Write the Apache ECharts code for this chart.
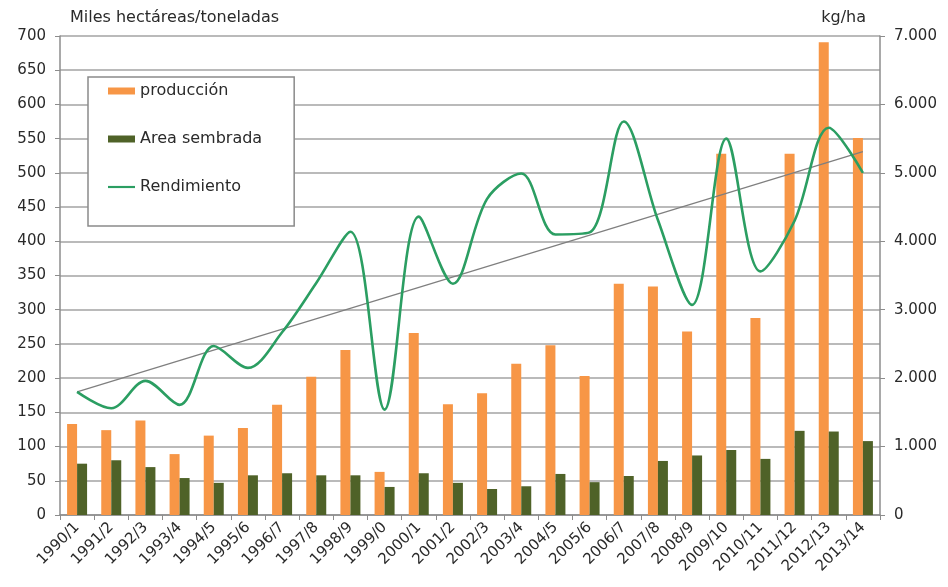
<!DOCTYPE html>
<html>
<head>
<meta charset="utf-8">
<script src="https://cdn.jsdelivr.net/npm/echarts@6/dist/echarts.min.js"></script>
<style>
html,body{margin:0;padding:0;background:#fff;}
#chart{width:948px;height:587px;}
</style>
</head>
<body>
<div id="chart"></div>
<script>
var categories = ['1990/1','1991/2','1992/3','1993/4','1994/5','1995/6','1996/7','1997/8','1998/9','1999/0','2000/1','2001/2','2002/3','2003/4','2004/5','2005/6','2006/7','2007/8','2008/9','2009/10','2010/11','2011/12','2012/13','2013/14'];
var produccion = [133,124,138,89,116,127,161,202,241,63,266,162,178,221,248,203,338,334,268,528,288,528,691,551];
var areaSembrada = [75,80,70,54,47,58,61,58,58,41,61,47,38,42,60,48,57,79,87,95,82,123,122,108];
var rendimiento = [1800,1560,1960,1610,2470,2150,2670,3390,4140,1540,4360,3380,4620,4990,4100,4130,5750,4310,3070,5500,3560,4300,5660,5000];
var tendenciaInicio = 1800;
var tendenciaFin = 5310;
var leftTicks = [0,50,100,150,200,250,300,350,400,450,500,550,600,650,700];
var rightTicks = [0,1000,2000,3000,4000,5000,6000,7000];

var FONT = 'DejaVu Sans';
var TXT = '#2a2a2a';
var chart = echarts.init(document.getElementById('chart'), null, {renderer:'canvas'});

function fmtThousands(v){
  var s = String(Math.round(v));
  return s.replace(/\B(?=(\d{3})+(?!\d))/g, '.');
}

var option = {
  animation: false,
  backgroundColor: '#ffffff',
  grid: {left: 60, right: 68, top: 36, bottom: 72, containLabel: false},
  legend: {
    orient: 'vertical',
    left: 88, top: 77,
    padding: [6, 32, 31, 20],
    itemGap: 32,
    itemWidth: 27, itemHeight: 7,
    itemTextGap: 4,
    backgroundColor: '#fff',
    borderColor: '#8a8a8a', borderWidth: 1.5,
    textStyle: {fontFamily: FONT, fontSize: 16, color: TXT},
    data: [
      {name: 'producción', icon: 'rect'},
      {name: 'Area sembrada', icon: 'rect'},
      {name: 'Rendimiento', icon: 'path://M0 0H30V2.4H0Z'}
    ]
  },
  xAxis: {
    type: 'category',
    data: categories,
    boundaryGap: true,
    axisLine: {lineStyle: {color: '#8c8c8c', width: 1.5}},
    axisTick: {show: true, length: 5, lineStyle: {color: '#8c8c8c'}},
    axisLabel: {interval: 0, rotate: 45, margin: 10, fontFamily: FONT, fontSize: 15, color: TXT},
    splitLine: {show: false}
  },
  yAxis: [
    {
      type: 'value', min: leftTicks[0], max: leftTicks[leftTicks.length-1], interval: 50,
      name: 'Miles hectáreas/toneladas',
      nameLocation: 'end', nameGap: 10,
      nameTextStyle: {fontFamily: FONT, fontSize: 16, color: TXT, align: 'left', padding: [0,0,0,10]},
      axisLine: {show: true, lineStyle: {color: '#8c8c8c', width: 1.5}},
      axisTick: {show: true, length: 5, lineStyle: {color: '#8c8c8c'}},
      axisLabel: {margin: 14, fontFamily: FONT, fontSize: 15, color: TXT},
      splitLine: {show: true, lineStyle: {color: '#a3a3a3', width: 1.6}}
    },
    {
      type: 'value', min: rightTicks[0], max: rightTicks[rightTicks.length-1], interval: 1000,
      name: 'kg/ha',
      nameLocation: 'end', nameGap: 10,
      nameTextStyle: {fontFamily: FONT, fontSize: 16, color: TXT, align: 'right', padding: [0,14,0,0]},
      axisLine: {show: true, lineStyle: {color: '#8c8c8c', width: 1.5}},
      axisTick: {show: true, length: 5, lineStyle: {color: '#8c8c8c'}},
      axisLabel: {margin: 14, fontFamily: FONT, fontSize: 15, color: TXT, formatter: fmtThousands},
      splitLine: {show: false}
    }
  ],
  series: [
    {
      name: 'producción', type: 'bar', yAxisIndex: 0,
      data: produccion, barWidth: 10, barGap: '0%',
      itemStyle: {color: '#F79646'}
    },
    {
      name: 'Area sembrada', type: 'bar', yAxisIndex: 0,
      data: areaSembrada, barWidth: 10, barGap: '0%',
      itemStyle: {color: '#4F6228'}
    },
    {
      name: 'Rendimiento', type: 'line', yAxisIndex: 1,
      data: rendimiento, smooth: 0.33, symbol: 'none', showSymbol: false,
      lineStyle: {color: '#2B9E62', width: 2.6},
      itemStyle: {color: '#2B9E62'},
      z: 5
    },
    {
      name: 'Tendencia', type: 'line', yAxisIndex: 1,
      data: [[categories[0], tendenciaInicio], [categories[categories.length-1], tendenciaFin]],
      symbol: 'none', showSymbol: false,
      lineStyle: {color: '#7f7f7f', width: 1.2},
      z: 4
    }
  ]
};
chart.setOption(option);
</script>
</body>
</html>
